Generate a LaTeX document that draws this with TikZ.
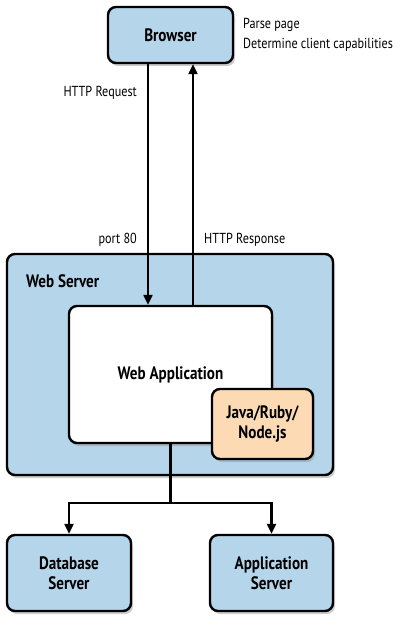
\documentclass[tikz,border=0pt]{standalone}
\usepackage{fontspec}
\setmainfont{PT Sans}[FakeStretch=0.84]
\usetikzlibrary{arrows.meta,shadows}
\definecolor{boxblue}{RGB}{181,213,235}
\definecolor{peach}{RGB}{252,219,180}
\begin{document}
\begin{tikzpicture}[x=1pt,y=-1pt,
  box/.style={draw=black, line width=2.4pt, rounded corners=8pt, fill=boxblue,
    align=center, font=\fontsize{18}{20}\selectfont\bfseries, inner sep=0pt,
    drop shadow={shadow xshift=2pt, shadow yshift=-3pt, fill=black!40, opacity=0.5}},
  lbl/.style={font=\fontsize{14.5}{20}\selectfont, inner sep=0pt},
  conn/.style={line width=2.2pt},
  arr/.style={conn, -{Triangle[width=9pt,length=10pt]}}]
\useasboundingbox (0,0) rectangle (400,625);
\node[box, minimum width=125pt, minimum height=56pt] (browser) at (170.5,35) {Browser};
\node[lbl, anchor=west, align=left] (notes) at (243,35) {Parse page\\Determine client capabilities};
\node[box, minimum width=326pt, minimum height=221pt] (webserver) at (170,364.5) {};
\node[lbl, font=\fontsize{18}{20}\selectfont\bfseries, anchor=west] (wslabel) at (26,281) {Web Server};
\node[box, fill=white, minimum width=203pt, minimum height=137pt] (webapp) at (170.5,374.5) {Web Application};
\node[box, fill=peach, minimum width=101pt, minimum height=70pt] (java) at (262.5,424) {Java/Ruby/\\Node.js};
\node[box, minimum width=124pt, minimum height=76pt] (db) at (69,573) {Database\\Server};
\node[box, minimum width=123pt, minimum height=76pt] (appsrv) at (271.5,573) {Application\\Server};
\coordinate (reqx) at (148,0);
\coordinate (resx) at (193,0);
\coordinate (split) at (170.5,503);
\draw[arr] (browser.south -| reqx) -- (webapp.north -| reqx);
\draw[arr] (webapp.north -| resx) -- (browser.south -| resx);
\node[lbl, anchor=east] (req) at (137,93) {HTTP Request};
\node[lbl, anchor=east] (port) at (137,240) {port 80};
\node[lbl, anchor=west] (resp) at (204,240) {HTTP Response};
\draw[conn] (webapp.south) -- (split);
\draw[arr] (split) -| (db.north);
\draw[arr] (split) -| (appsrv.north);
\end{tikzpicture}
\end{document}
